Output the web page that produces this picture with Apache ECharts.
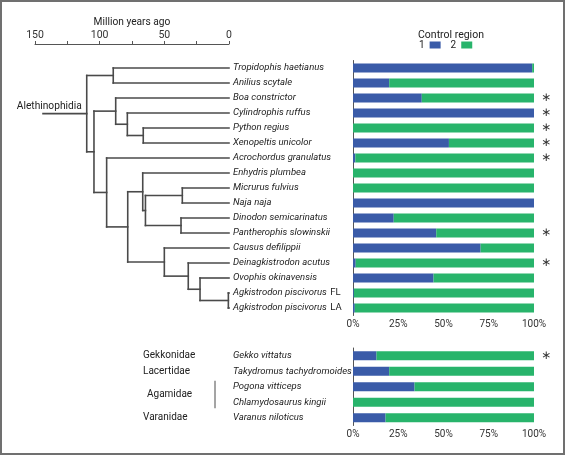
<!DOCTYPE html>
<html><head><meta charset="utf-8">
<script src="https://cdn.jsdelivr.net/npm/echarts@6/dist/echarts.min.js"></script>
<style>html,body{margin:0;padding:0;background:#fff}#c{width:565px;height:455px}#b{position:absolute;left:0;top:0;width:561px;height:451px;border:2px solid #707070;pointer-events:none}</style>
</head><body><div id="c"></div><div id="b"></div>
<script>
// ---- snakes (top panel) ----
const snakeSpecies = ['Tropidophis haetianus','Anilius scytale','Boa constrictor','Cylindrophis ruffus','Python regius','Xenopeltis unicolor','Acrochordus granulatus','Enhydris plumbea','Micrurus fulvius','Naja naja','Dinodon semicarinatus','Pantherophis slowinskii','Causus defilippii','Deinagkistrodon acutus','Ovophis okinavensis','Agkistrodon piscivorus FL','Agkistrodon piscivorus LA'];
const snakeType1 = [99, 20, 38, 100, 0, 53, 1.3, 0, 0, 100, 22.5, 46, 70.5, 1.5, 44.5, 0.5, 1];
const snakeType2 = [1, 80, 62, 0, 100, 47, 98.7, 100, 100, 0, 77.5, 54, 29.5, 98.5, 55.5, 99.5, 99];
const snakeStar = [0, 0, 1, 1, 1, 1, 1, 0, 0, 0, 0, 1, 0, 1, 0, 0, 0];
// tree: [node, age (Mya), child A, child B]
const treeNodes = [
  ['Alethinophidia', 110.0, 'n1', 'n2'],
  ['n1', 89.5, 'Tropidophis haetianus', 'Anilius scytale'],
  ['n2', 104.4, 'n3', 'n6'],
  ['n3', 87.6, 'Boa constrictor', 'n4'],
  ['n4', 78.6, 'Cylindrophis ruffus', 'n5'],
  ['n5', 66.3, 'Python regius', 'Xenopeltis unicolor'],
  ['n6', 94.6, 'Acrochordus granulatus', 'n7'],
  ['n7', 78.3, 'n8', 'n12'],
  ['n8', 66.7, 'Enhydris plumbea', 'n9'],
  ['n9', 64.6, 'n10', 'n11'],
  ['n10', 36.1, 'Micrurus fulvius', 'Naja naja'],
  ['n11', 37.1, 'Dinodon semicarinatus', 'Pantherophis slowinskii'],
  ['n12', 50.0, 'Causus defilippii', 'n13'],
  ['n13', 31.5, 'Deinagkistrodon acutus', 'n14'],
  ['n14', 22.4, 'Ovophis okinavensis', 'n15'],
  ['n15', 0.5, 'Agkistrodon piscivorus FL', 'Agkistrodon piscivorus LA']
];
const rootStemAge = 143.8;
// ---- lizards (bottom panel) ----
const lizardSpecies = ['Gekko vittatus','Takydromus tachydromoides','Pogona vitticeps','Chlamydosaurus kingii','Varanus niloticus'];
const lizardType1 = [13, 20, 34, 0, 18];
const lizardType2 = [87, 80, 66, 100, 82];
const lizardStar = [1, 0, 0, 0, 0];
const lizardFamilies = [['Gekkonidae', 0, 0], ['Lacertidae', 1, 1], ['Agamidae', 2, 3], ['Varanidae', 4, 4]];

const BLUE = '#3A5BA8', GREEN = '#28B46B', LINE = '#4a4a4a', TXT = '#222';
const FONT = 'Roboto';
const FS = 9.5;
function speciesLabel(v) {
  const m = v.match(/^(.*) (FL|LA)$/);
  return m ? '{i|' + m[1] + '} {n|' + m[2] + '}' : '{i|' + v + '}';
}
const rich = { i: { fontStyle: 'italic', fontSize: FS, color: TXT, fontFamily: FONT }, n: { fontSize: FS, color: TXT, fontFamily: FONT } };

const nodeMap = {};
treeNodes.forEach(n => nodeMap[n[0]] = n);
function ageOf(name) { return nodeMap[name] ? nodeMap[name][1] : 0; }
const yMemo = {};
function yOf(name) {
  if (yMemo[name] != null) return yMemo[name];
  const n = nodeMap[name];
  const y = n ? (yOf(n[2]) + yOf(n[3])) / 2 : snakeSpecies.indexOf(name);
  return (yMemo[name] = y);
}

function treeRender(params, api) {
  const lines = [];
  const seg = (a, b) => {
    const p1 = api.coord(a), p2 = api.coord(b);
    lines.push({ type: 'line', shape: { x1: p1[0], y1: p1[1], x2: p2[0], y2: p2[1] }, style: { stroke: LINE, lineWidth: 1.6, lineCap: 'square' } });
  };
  treeNodes.forEach(n => {
    const age = n[1];
    seg([age, yOf(n[2])], [age, yOf(n[3])]);
    [n[2], n[3]].forEach(c => seg([age, yOf(c)], [ageOf(c), yOf(c)]));
  });
  const root = treeNodes[0];
  seg([rootStemAge, yOf(root[0])], [root[1], yOf(root[0])]);
  const rp = api.coord([root[1], yOf(root[0])]);
  lines.push({ type: 'text', x: rp[0] - 5, y: rp[1] - 2, style: { text: root[0], textAlign: 'right', textVerticalAlign: 'bottom', fontSize: 10.2, fontFamily: FONT, fill: TXT } });
  return { type: 'group', children: lines };
}

function starRender(stars) {
  return function (params, api) {
    const els = [];
    stars.forEach((s, i) => {
      if (!s) return;
      const p = api.coord([100, i]);
      els.push({ type: 'text', x: p[0] + 12, y: p[1], style: { text: '\u2217', textAlign: 'center', textVerticalAlign: 'middle', fontSize: 12, fontFamily: 'DejaVu Sans', fill: '#333' } });
    });
    return { type: 'group', children: els };
  };
}

function familyRender(params, api) {
  const cs = params.coordSys;
  const els = [];
  lizardFamilies.forEach(f => {
    const p1 = api.coord([0, f[1]]), p2 = api.coord([0, f[2]]);
    const multi = f[2] > f[1];
    els.push({ type: 'text', x: cs.x + (multi ? 112 : 108), y: (p1[1] + p2[1]) / 2, style: { text: f[0], textAlign: 'left', textVerticalAlign: 'middle', fontSize: 10, fontFamily: FONT, fill: TXT } });
    if (multi) {
      const bx = cs.x + cs.width - 14;
      els.push({ type: 'line', shape: { x1: bx, y1: p1[1] - 6, x2: bx, y2: p2[1] + 6 }, style: { stroke: LINE, lineWidth: 1 } });
    }
  });
  return { type: 'group', children: els };
}

const chart = echarts.init(document.getElementById('c'), null, { renderer: 'canvas' });
const hiddenVal = (gi, min, max, inv) => ({ gridIndex: gi, type: 'value', min, max, inverse: inv, show: false, axisLine: { onZero: false } });
const pctX = gi => ({ gridIndex: gi, type: 'value', min: 0, max: 100, interval: 25, axisLine: { show: false, onZero: false }, axisTick: { show: false }, splitLine: { show: false }, axisLabel: { formatter: '{value}%', margin: 4, fontSize: 10, color: '#333', fontFamily: FONT } });
const catY = (gi, data) => ({ gridIndex: gi, type: 'category', data, inverse: true, axisLine: { onZero: false, lineStyle: { color: '#555', width: 1 } }, axisTick: { length: 3, lineStyle: { color: '#555' } }, axisLabel: { show: false } });
const labelY = (gi, data) => ({ gridIndex: gi, type: 'category', data, inverse: true, position: 'right', axisLine: { show: false, onZero: false }, axisTick: { show: false }, axisLabel: { interval: 0, margin: 4, formatter: speciesLabel, rich } });

chart.setOption({
  animation: false,
  title: { text: 'Control region', left: 446, top: 25, textAlign: 'center', textStyle: { fontSize: 10.5, fontWeight: 'normal', color: TXT, fontFamily: FONT } },
  legend: { data: ['1', '2'], left: 414, top: 35, align: 'right', icon: 'rect', itemWidth: 11, itemHeight: 7, itemGap: 10, textStyle: { fontSize: 10, color: TXT, fontFamily: FONT } },
  grid: [
    { left: 35, width: 194, top: 60.5, height: 255 },
    { left: 353, width: 181, top: 60.5, height: 255 },
    { left: 35, width: 194, top: 348, height: 77.5 },
    { left: 353, width: 181, top: 348, height: 77.5 }
  ],
  xAxis: [
    { gridIndex: 0, type: 'value', inverse: true, min: 0, max: 150, interval: 25, position: 'top', offset: 16.5,
      axisLine: { onZero: false, lineStyle: { color: '#555' } }, axisTick: { length: 3, lineStyle: { color: '#555' } }, splitLine: { show: false },
      axisLabel: { formatter: v => (v % 50 === 0 ? String(v) : ''), margin: 3, fontSize: 10.5, color: '#333', fontFamily: FONT },
      name: 'Million years ago', nameLocation: 'middle', nameGap: 17, nameMoveOverlap: false, nameTextStyle: { fontSize: 10.2, color: TXT, fontFamily: FONT } },
    pctX(1),
    hiddenVal(2, 0, 150, true),
    pctX(3)
  ],
  yAxis: [
    labelY(0, snakeSpecies),
    hiddenVal(0, -0.5, snakeSpecies.length - 0.5, true),
    catY(1, snakeSpecies),
    labelY(2, lizardSpecies),
    hiddenVal(2, -0.5, lizardSpecies.length - 0.5, true),
    catY(3, lizardSpecies)
  ],
  series: [
    { type: 'custom', xAxisIndex: 0, yAxisIndex: 1, data: [[0, 0]], renderItem: treeRender, silent: true },
    { name: '1', type: 'bar', xAxisIndex: 1, yAxisIndex: 2, stack: 's', data: snakeType1, barWidth: 9, itemStyle: { color: BLUE } },
    { name: '2', type: 'bar', xAxisIndex: 1, yAxisIndex: 2, stack: 's', data: snakeType2, barWidth: 9, itemStyle: { color: GREEN } },
    { type: 'custom', xAxisIndex: 1, yAxisIndex: 2, data: [[0, 0]], renderItem: starRender(snakeStar), silent: true, clip: false },
    { type: 'custom', xAxisIndex: 2, yAxisIndex: 4, data: [[0, 0]], renderItem: familyRender, silent: true, clip: false },
    { name: '1', type: 'bar', xAxisIndex: 3, yAxisIndex: 5, stack: 'l', data: lizardType1, barWidth: 9, itemStyle: { color: BLUE } },
    { name: '2', type: 'bar', xAxisIndex: 3, yAxisIndex: 5, stack: 'l', data: lizardType2, barWidth: 9, itemStyle: { color: GREEN } },
    { type: 'custom', xAxisIndex: 3, yAxisIndex: 5, data: [[0, 0]], renderItem: starRender(lizardStar), silent: true, clip: false }
  ]
});
</script></body></html>
